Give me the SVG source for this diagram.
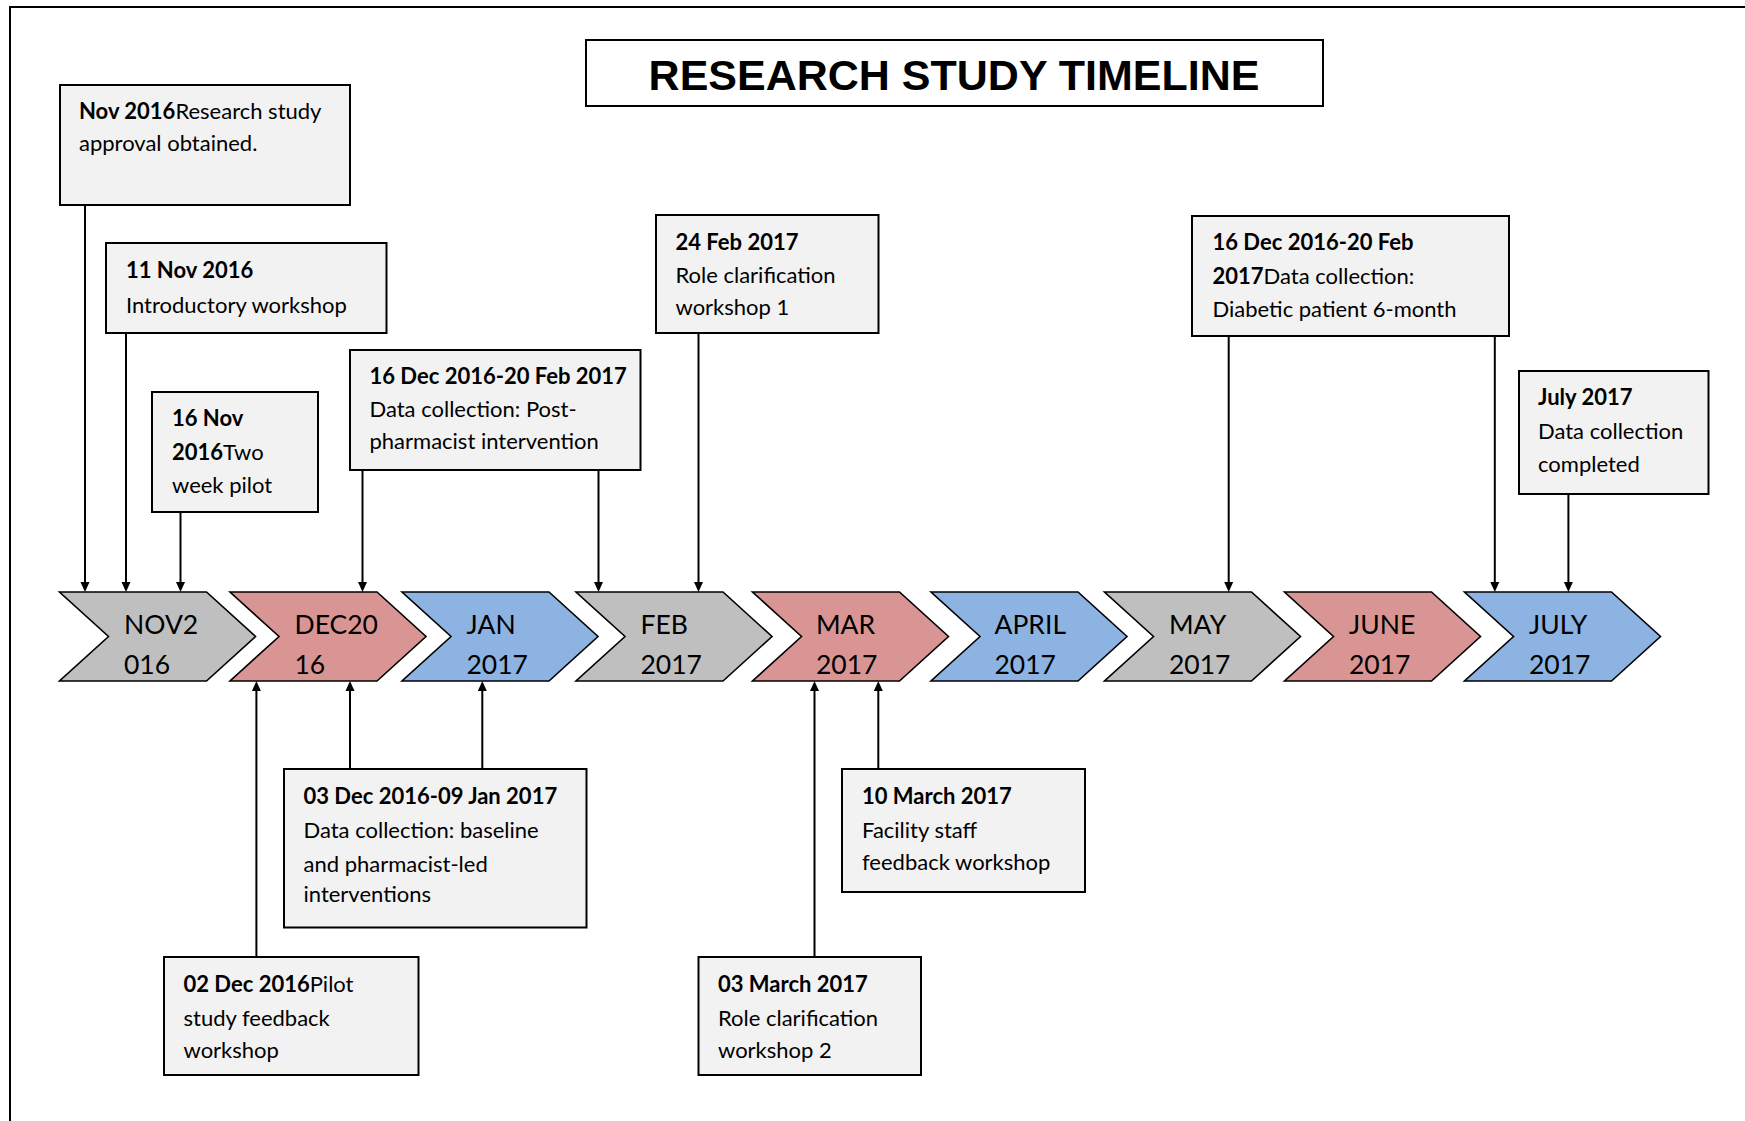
<svg xmlns="http://www.w3.org/2000/svg" width="1745" height="1121" viewBox="0 0 1745 1121">
<style>
.box{fill:#F2F2F2;stroke:#000;stroke-width:2}
.t{font-family:Lato,"Open Sans","Liberation Sans",sans-serif;font-size:22px;fill:#000}
.b{font-weight:700}
.chev{stroke:#000;stroke-width:1.6;stroke-linejoin:miter}
.gray{fill:#BFBFBF}.pink{fill:#D99594}.blue{fill:#8DB3E2}
.ct{font-family:Lato,"Open Sans","Liberation Sans",sans-serif;font-size:26.5px;fill:#000}
.con{stroke:#000;stroke-width:2;fill:none;marker-end:url(#ah)}
.title{font-family:"Liberation Sans",Arial,sans-serif;font-weight:700;font-size:43px;fill:#000}
</style>
<defs>
<marker id="ah" viewBox="0 0 10 10" refX="0" refY="5" markerWidth="10" markerHeight="10" markerUnits="userSpaceOnUse" orient="auto">
<path d="M0,0.5 L10,5 L0,9.5 z" fill="#000"/>
</marker>
<polygon id="chevshape" points="0,0 147,0 196,44.5 147,89 0,89 49,44.5"/>
</defs>
<rect width="1745" height="1121" fill="#fff"/>
<path d="M10,1121 L10,7 L1745,7" fill="none" stroke="#000" stroke-width="2"/>

<g id="title">
<rect x="586" y="40" width="737" height="66" fill="#fff" stroke="#000" stroke-width="2"/>
<text class="title" x="954" y="90" text-anchor="middle">RESEARCH STUDY TIMELINE</text>
</g>

<g id="months">
<g id="m-nov"><use href="#chevshape" x="59.5" y="592" class="chev gray"/><text class="ct" x="124" y="634">NOV2</text><text class="ct" x="124" y="674">016</text></g>
<g id="m-dec"><use href="#chevshape" x="230" y="592" class="chev pink"/><text class="ct" x="294.5" y="634">DEC20</text><text class="ct" x="294.5" y="674">16</text></g>
<g id="m-jan"><use href="#chevshape" x="402" y="592" class="chev blue"/><text class="ct" x="466.5" y="634">JAN</text><text class="ct" x="466.5" y="674">2017</text></g>
<g id="m-feb"><use href="#chevshape" x="576" y="592" class="chev gray"/><text class="ct" x="640.5" y="634">FEB</text><text class="ct" x="640.5" y="674">2017</text></g>
<g id="m-mar"><use href="#chevshape" x="752.5" y="592" class="chev pink"/><text class="ct" x="816" y="634">MAR</text><text class="ct" x="816" y="674">2017</text></g>
<g id="m-apr"><use href="#chevshape" x="931" y="592" class="chev blue"/><text class="ct" x="994.5" y="634">APRIL</text><text class="ct" x="994.5" y="674">2017</text></g>
<g id="m-may"><use href="#chevshape" x="1104.5" y="592" class="chev gray"/><text class="ct" x="1169" y="634">MAY</text><text class="ct" x="1169" y="674">2017</text></g>
<g id="m-jun"><use href="#chevshape" x="1284.5" y="592" class="chev pink"/><text class="ct" x="1349" y="634">JUNE</text><text class="ct" x="1349" y="674">2017</text></g>
<g id="m-jul"><use href="#chevshape" x="1464.5" y="592" class="chev blue"/><text class="ct" x="1529" y="634">JULY</text><text class="ct" x="1529" y="674">2017</text></g>
</g>

<g id="connectors">
<line class="con" x1="85" y1="205" x2="85" y2="582"/>
<line class="con" x1="126" y1="333" x2="126" y2="582"/>
<line class="con" x1="180.5" y1="512" x2="180.5" y2="582"/>
<line class="con" x1="362.5" y1="470" x2="362.5" y2="582"/>
<line class="con" x1="598.5" y1="470" x2="598.5" y2="582"/>
<line class="con" x1="698.5" y1="333" x2="698.5" y2="582"/>
<line class="con" x1="1228.7" y1="336" x2="1228.7" y2="582"/>
<line class="con" x1="1494.8" y1="336" x2="1494.8" y2="582"/>
<line class="con" x1="1568.4" y1="494" x2="1568.4" y2="582"/>
<line class="con" x1="256.4" y1="957" x2="256.4" y2="691"/>
<line class="con" x1="350" y1="769" x2="350" y2="691"/>
<line class="con" x1="482.3" y1="769" x2="482.3" y2="691"/>
<line class="con" x1="814.5" y1="957" x2="814.5" y2="691"/>
<line class="con" x1="878.3" y1="769" x2="878.3" y2="691"/>
</g>

<g id="n-nov2016">
<rect class="box" x="60" y="85" width="290" height="120"/>
<text class="t" x="79" y="119"><tspan class="b">Nov 2016</tspan>Research study</text>
<text class="t" x="79" y="151">approval obtained.</text>
</g>
<g id="n-11nov">
<rect class="box" x="106" y="243" width="280.5" height="90"/>
<text class="t" x="126" y="278"><tspan class="b">11 Nov 2016</tspan></text>
<text class="t" x="126" y="313">Introductory workshop</text>
</g>
<g id="n-16nov">
<rect class="box" x="152" y="392" width="166" height="120"/>
<text class="t" x="172" y="426"><tspan class="b">16 Nov</tspan></text>
<text class="t" x="172" y="460"><tspan class="b">2016</tspan>Two</text>
<text class="t" x="172" y="493">week pilot</text>
</g>
<g id="n-16dec-post">
<rect class="box" x="350" y="350" width="290.5" height="120"/>
<text class="t" x="369.5" y="384"><tspan class="b">16 Dec 2016-20 Feb 2017</tspan></text>
<text class="t" x="369.5" y="417">Data collection: Post-</text>
<text class="t" x="369.5" y="449">pharmacist intervention</text>
</g>
<g id="n-24feb">
<rect class="box" x="656" y="215" width="222.5" height="118"/>
<text class="t" x="675.5" y="250"><tspan class="b">24 Feb 2017</tspan></text>
<text class="t" x="675.5" y="283">Role clarification</text>
<text class="t" x="675.5" y="315">workshop 1</text>
</g>
<g id="n-16dec-diab">
<rect class="box" x="1192" y="216" width="317" height="120"/>
<text class="t" x="1212.5" y="250"><tspan class="b">16 Dec 2016-20 Feb</tspan></text>
<text class="t" x="1212.5" y="284"><tspan class="b">2017</tspan>Data collection:</text>
<text class="t" x="1212.5" y="317">Diabetic patient 6-month</text>
</g>
<g id="n-july">
<rect class="box" x="1519" y="371" width="189.5" height="123"/>
<text class="t" x="1538" y="405"><tspan class="b">July 2017</tspan></text>
<text class="t" x="1538" y="439">Data collection</text>
<text class="t" x="1538" y="472">completed</text>
</g>
<g id="n-03dec">
<rect class="box" x="284" y="769" width="302.5" height="158.5"/>
<text class="t" x="303.5" y="804"><tspan class="b">03 Dec 2016-09 Jan 2017</tspan></text>
<text class="t" x="303.5" y="838">Data collection: baseline</text>
<text class="t" x="303.5" y="871.5">and pharmacist-led</text>
<text class="t" x="303.5" y="901.5">interventions</text>
</g>
<g id="n-02dec">
<rect class="box" x="164" y="957" width="254.5" height="118"/>
<text class="t" x="183.5" y="992"><tspan class="b">02 Dec 2016</tspan>Pilot</text>
<text class="t" x="183.5" y="1025.5">study feedback</text>
<text class="t" x="183.5" y="1058">workshop</text>
</g>
<g id="n-10mar">
<rect class="box" x="842" y="769" width="243" height="123"/>
<text class="t" x="862" y="804"><tspan class="b">10 March 2017</tspan></text>
<text class="t" x="862" y="838">Facility staff</text>
<text class="t" x="862" y="870">feedback workshop</text>
</g>
<g id="n-03mar">
<rect class="box" x="698.5" y="957" width="222.5" height="118"/>
<text class="t" x="718" y="992"><tspan class="b">03 March 2017</tspan></text>
<text class="t" x="718" y="1026">Role clarification</text>
<text class="t" x="718" y="1058">workshop 2</text>
</g>
</svg>
